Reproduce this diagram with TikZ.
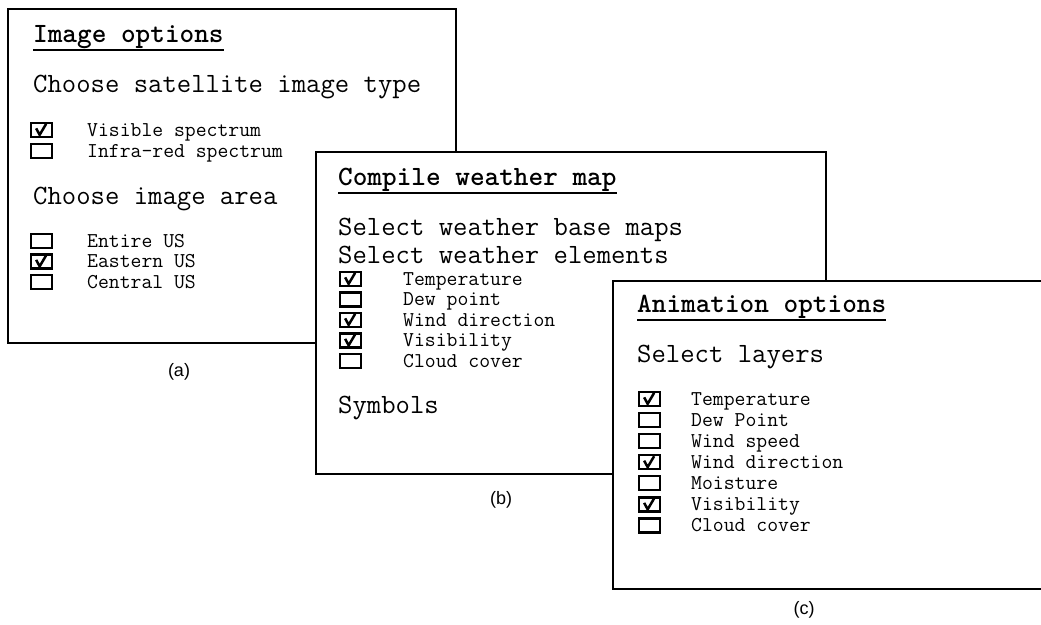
\documentclass[tikz,border=0pt]{standalone}
\usepackage{fontspec}
\setmainfont{Liberation Sans}

\tikzset{
  panel/.style={draw, line width=2pt, fill=white, anchor=north west, inner sep=0pt},
  heading/.style={anchor=base west, inner sep=0pt, font=\ttfamily\bfseries\addfontfeature{FakeBold=1.5}\fontsize{27.9}{30}\selectfont},
  prompt/.style={anchor=base west, inner sep=0pt, font=\ttfamily\fontsize{27.9}{30}\selectfont},
  item/.style={anchor=base west, inner sep=0pt, font=\ttfamily\fontsize{21.1}{23}\selectfont},
  box/.style={draw, line width=2.3pt, minimum width=21pt, minimum height=14pt, inner sep=0pt, anchor=south west},
  ticked/.style={box, path picture={
      \draw[line width=2.5pt]
        ([xshift=-5.5pt,yshift=1.5pt]path picture bounding box.center)
        -- ([xshift=-2pt,yshift=-5pt]path picture bounding box.center)
        -- ([xshift=4.5pt,yshift=6pt]path picture bounding box.center);}},
  caption/.style={font=\fontsize{18}{20}\selectfont},
  rule/.style={line width=2pt}
}

\begin{document}
\begin{tikzpicture}[x=1pt,y=-1pt]
\useasboundingbox[fill=white] (0,0) rectangle (1041,624);
\clip (0,0) rectangle (1041,624);

% (a) image options
\node[panel, minimum width=448pt, minimum height=334pt] (pa) at (7,8) {};
\node[heading] (ta) at (33,42) {Image options};
\draw[rule] ([yshift=-1.5pt]ta.south west) -- ([yshift=-1.5pt]ta.south east);
\node[prompt] (qa1) at (33,92) {Choose satellite image type};
\foreach \txt/\s [count=\i from 0] in {Visible spectrum/ticked, Infra-red spectrum/box}
  {\node[\s] (ba1-\i) at (30,138+\i*21) {};
   \node[item] (ia1-\i) at (87,136+\i*21) {\txt};}
\node[prompt] (qa2) at (33,204) {Choose image area};
\foreach \txt/\s [count=\i from 0] in {Entire US/box, Eastern US/ticked, Central US/box}
  {\node[\s] (ba2-\i) at (30,249+\i*20.5) {};
   \node[item] (ia2-\i) at (87,247+\i*20.5) {\txt};}
\node[caption] (ca) at (179,372) {(a)};

% (b) weather map
\node[panel, minimum width=510pt, minimum height=322pt] (pb) at (315,151) {};
\node[heading] (tb) at (338,185) {Compile weather map};
\draw[rule] ([yshift=-1.5pt]tb.south west) -- ([yshift=-1.5pt]tb.south east);
\node[prompt] (qb1) at (338,235) {Select weather base maps};
\node[prompt] (qb2) at (338,263) {Select weather elements};
\foreach \txt/\s [count=\i from 0] in {Temperature/ticked, Dew point/box,
    Wind direction/ticked, Visibility/ticked, Cloud cover/box}
  {\node[\s] (bb-\i) at (339,287+\i*20.5) {};
   \node[item] (ib-\i) at (403,285+\i*20.5) {\txt};}
\node[prompt] (qb3) at (338,413) {Symbols};
\node[caption] (cb) at (501,500) {(b)};

% (c) animation
\node[panel, minimum width=460pt, minimum height=308pt] (pc) at (612,280) {};
\node[heading] (tc) at (637,312) {Animation options};
\draw[rule] ([yshift=-1.5pt]tc.south west) -- ([yshift=-1.5pt]tc.south east);
\node[prompt] (qc) at (637,362) {Select layers};
\foreach \txt/\s [count=\i from 0] in {Temperature/ticked, Dew Point/box, Wind speed/box,
    Wind direction/ticked, Moisture/box, Visibility/ticked, Cloud cover/box}
  {\node[\s] (bc-\i) at (638,407+\i*21.1) {};
   \node[item] (ic-\i) at (691,405+\i*21.1) {\txt};}
\node[caption] (cc) at (804,610) {(c)};
\end{tikzpicture}
\end{document}
